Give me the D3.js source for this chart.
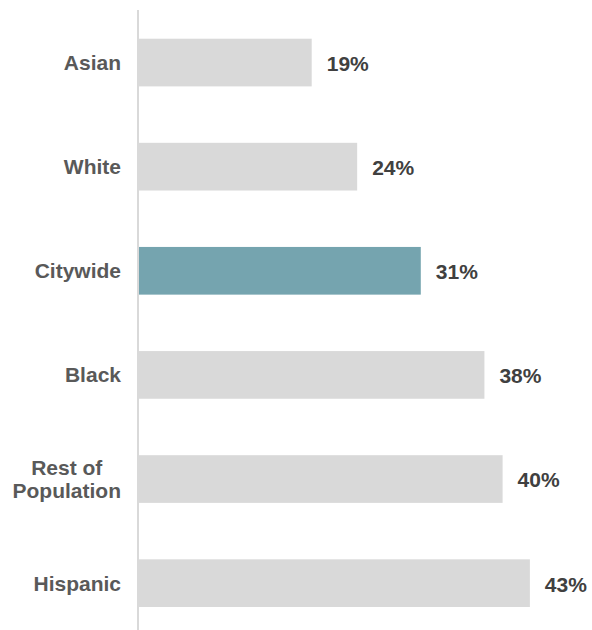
<!DOCTYPE html>
<html>
<head>
<meta charset="utf-8">
<script src="https://cdn.jsdelivr.net/npm/d3@7"></script>
<style>
  html, body { margin: 0; padding: 0; background: #ffffff; }
  svg { display: block; }
  text { font-family: "Liberation Sans", Arial, sans-serif; font-weight: bold; }
</style>
</head>
<body>
<svg id="chart" width="592" height="630"></svg>
<script>
// Share of residents, by group
const groups = ["Asian", "White", "Citywide", "Black", "Rest of Population", "Hispanic"];
const groupLines = [["Asian"], ["White"], ["Citywide"], ["Black"], ["Rest of", "Population"], ["Hispanic"]];
const shares = [19, 24, 31, 38, 40, 43];
const highlight = "Citywide";

const width = 592, height = 630;
const svg = d3.select("#chart");

const x = d3.scaleLinear().domain([0, 50]).range([139, 593.5]);
const y = d3.scaleBand().domain(groups).range([38.7, 607]).paddingInner(0.542).paddingOuter(0);

const rows = groups.map((g, i) => ({ group: g, lines: groupLines[i], value: shares[i] }));

// bars
svg.append("g").selectAll("rect")
  .data(rows)
  .join("rect")
  .attr("x", x(0))
  .attr("y", d => y(d.group))
  .attr("width", d => x(d.value) - x(0))
  .attr("height", y.bandwidth())
  .attr("fill", d => d.group === highlight ? "#75a4af" : "#d9d9d9");

// vertical baseline
svg.append("line")
  .attr("x1", x(0) - 1).attr("x2", x(0) - 1)
  .attr("y1", 10).attr("y2", height)
  .attr("stroke", "#d9d9d9")
  .attr("stroke-width", 2);

// category labels: block right-aligned to the baseline, lines centred within the block
const labelSize = 21, lineGap = 22.4, labelRight = 121;
svg.append("g").selectAll("text")
  .data(rows)
  .join("text")
  .attr("font-size", labelSize)
  .attr("fill", "#595959")
  .each(function(d) {
    const cy = y(d.group) + y.bandwidth() / 2;
    const n = d.lines.length;
    const t = d3.select(this);
    const spans = t.selectAll("tspan")
      .data(d.lines)
      .join("tspan")
      .attr("y", (l, i) => cy + (i - (n - 1) / 2) * lineGap)
      .attr("dy", "0.35em")
      .text(l => l);
    if (n === 1) {
      t.attr("text-anchor", "end");
      spans.attr("x", labelRight);
    } else {
      let maxW = 0;
      spans.each(function() { maxW = Math.max(maxW, this.getComputedTextLength()); });
      t.attr("text-anchor", "middle");
      spans.attr("x", labelRight - maxW / 2);
    }
  });

// value labels
svg.append("g").selectAll("text")
  .data(rows)
  .join("text")
  .attr("x", d => x(d.value) + 15)
  .attr("y", d => y(d.group) + y.bandwidth() / 2 + 1)
  .attr("dy", "0.35em")
  .attr("font-size", labelSize)
  .attr("fill", "#404040")
  .text(d => d.value + "%");
</script>
</body>
</html>
